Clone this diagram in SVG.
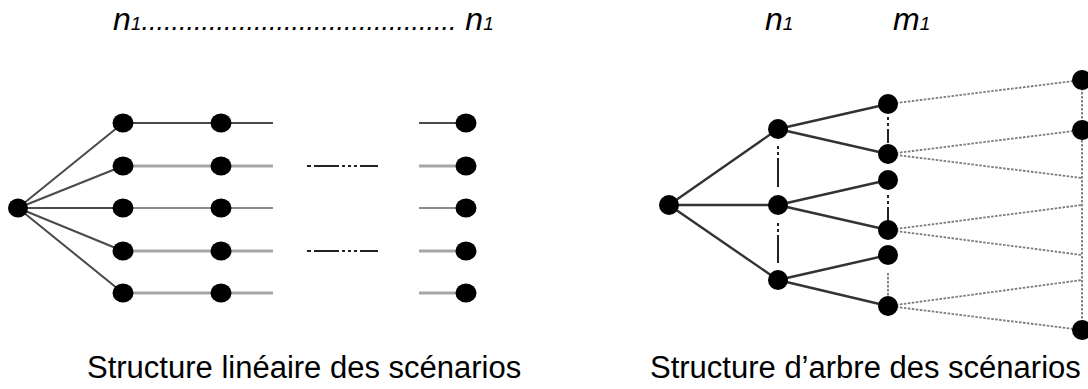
<svg xmlns="http://www.w3.org/2000/svg" width="1088" height="389" viewBox="0 0 1088 389">
<style>
.dot{fill:#000}
.fan{stroke:#4a4a4a;stroke-width:2;fill:none}
.blk{stroke:#111;stroke-width:1.6;fill:none}
.gry{stroke:#a6a6a6;stroke-width:3;fill:none}
.mid{stroke:#666;stroke-width:1.6;fill:none}
.dd{stroke:#222;stroke-width:2;fill:none;stroke-dasharray:4 3 25 3 3 3 3 3 3 3 18}
.tree{stroke:#333;stroke-width:2.4;fill:none}
.vdd{stroke:#222;stroke-width:2;fill:none;stroke-dasharray:3 3 3 3 30}
.dotted{stroke:#7a7a7a;stroke-width:1.8;fill:none;stroke-dasharray:2.5 1.5}
.lbl{font-family:"Liberation Sans",Arial,sans-serif;font-style:italic;fill:#000}
.cap{font-family:"Liberation Sans",Arial,sans-serif;font-size:31px;fill:#000}
</style>
<rect width="1088" height="389" fill="#fff"/>
<g id="labels">
<text class="lbl" x="113" y="30" font-size="32">n<tspan font-size="19">1</tspan><tspan font-size="27">..........................................</tspan><tspan> n</tspan><tspan font-size="19">1</tspan></text>
<text class="lbl" x="765" y="30" font-size="32">n<tspan font-size="19">1</tspan></text>
<text class="lbl" x="893" y="30" font-size="32">m<tspan font-size="19">1</tspan></text>
<text class="cap" x="87" y="378">Structure linéaire des scénarios</text>
<text class="cap" x="650" y="378">Structure d’arbre des scénarios</text>
</g>
<g id="connectors">
<path class="fan" d="M18 208L123 123M18 208L123 166M18 208L123 208M18 208L123 251M18 208L123 293"/>
<path class="blk" d="M123 123H273M419 123H466"/>
<path class="gry" d="M123 166H273M419 166H466"/>
<path class="mid" d="M123 208H273M419 208H466"/>
<path class="gry" d="M123 251H273M419 251H466"/>
<path class="gry" d="M123 293H273M419 293H466"/>
<path class="dd" d="M307 166H379M307 251H379"/>
<path class="tree" d="M669 205L778 129M669 205H778M669 205L778 280M778 129L888 104M778 129L888 154M778 205L888 180M778 205L888 230M778 280L888 255M778 280L888 306"/>
<path class="vdd" d="M778 146V187M778 223V263"/>
<path class="vdd" d="M888 117V143M888 195V223"/>
<path class="dotted" d="M888 273V297"/>
<path class="dotted" d="M1082 80V330M888 104L1082 80M888 154L1082 130M888 154L1082 178M888 230L1082 205M888 230L1082 255M888 306L1082 280M888 306L1082 330"/>
</g>
<g id="lin-root"><ellipse class="dot" cx="18" cy="208" rx="10" ry="9.5"/></g>
<g id="lin-a1"><ellipse class="dot" cx="123" cy="123" rx="10.5" ry="9.5"/></g>
<g id="lin-a2"><ellipse class="dot" cx="123" cy="166" rx="10.5" ry="9.5"/></g>
<g id="lin-a3"><ellipse class="dot" cx="123" cy="208" rx="10.5" ry="9.5"/></g>
<g id="lin-a4"><ellipse class="dot" cx="123" cy="251" rx="10.5" ry="9.5"/></g>
<g id="lin-a5"><ellipse class="dot" cx="123" cy="293" rx="10.5" ry="9.5"/></g>
<g id="lin-b1"><ellipse class="dot" cx="221" cy="123" rx="10.5" ry="9.5"/></g>
<g id="lin-b2"><ellipse class="dot" cx="221" cy="166" rx="10.5" ry="9.5"/></g>
<g id="lin-b3"><ellipse class="dot" cx="221" cy="208" rx="10.5" ry="9.5"/></g>
<g id="lin-b4"><ellipse class="dot" cx="221" cy="251" rx="10.5" ry="9.5"/></g>
<g id="lin-b5"><ellipse class="dot" cx="221" cy="293" rx="10.5" ry="9.5"/></g>
<g id="lin-c1"><ellipse class="dot" cx="466" cy="123" rx="10.5" ry="9.5"/></g>
<g id="lin-c2"><ellipse class="dot" cx="466" cy="166" rx="10.5" ry="9.5"/></g>
<g id="lin-c3"><ellipse class="dot" cx="466" cy="208" rx="10.5" ry="9.5"/></g>
<g id="lin-c4"><ellipse class="dot" cx="466" cy="251" rx="10.5" ry="9.5"/></g>
<g id="lin-c5"><ellipse class="dot" cx="466" cy="293" rx="10.5" ry="9.5"/></g>
<g id="tree-root"><circle class="dot" cx="669" cy="205" r="10"/></g>
<g id="tree-a1"><circle class="dot" cx="778" cy="129" r="10"/></g>
<g id="tree-a2"><circle class="dot" cx="778" cy="205" r="10"/></g>
<g id="tree-a3"><circle class="dot" cx="778" cy="280" r="10"/></g>
<g id="tree-b1"><circle class="dot" cx="888" cy="104" r="10"/></g>
<g id="tree-b2"><circle class="dot" cx="888" cy="154" r="10"/></g>
<g id="tree-b3"><circle class="dot" cx="888" cy="180" r="10"/></g>
<g id="tree-b4"><circle class="dot" cx="888" cy="230" r="10"/></g>
<g id="tree-b5"><circle class="dot" cx="888" cy="255" r="10"/></g>
<g id="tree-b6"><circle class="dot" cx="888" cy="306" r="10"/></g>
<g id="tree-c1"><circle class="dot" cx="1082" cy="80" r="10"/></g>
<g id="tree-c2"><circle class="dot" cx="1082" cy="130" r="10"/></g>
<g id="tree-c3"><circle class="dot" cx="1082" cy="330" r="10"/></g>
</svg>
